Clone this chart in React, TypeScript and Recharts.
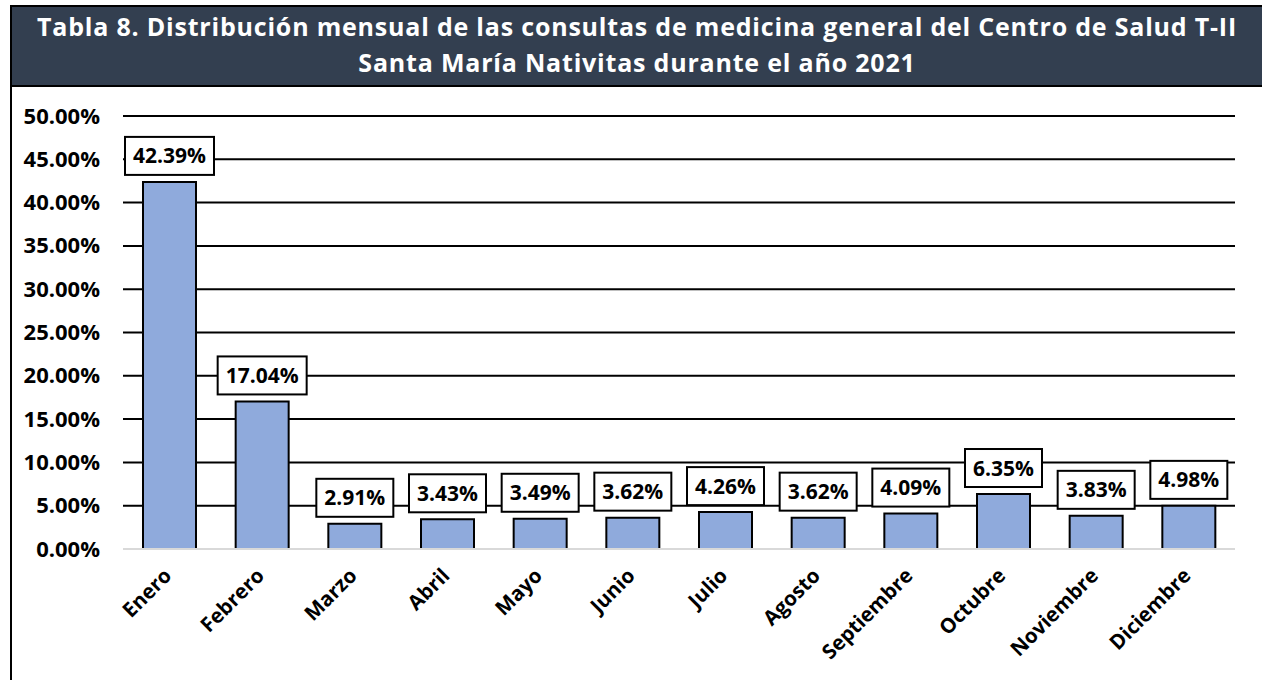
import { BarChart, Bar, XAxis, YAxis, CartesianGrid, LabelList } from "recharts";

const TITLE_LINE_1 = "Tabla 8. Distribución mensual de las consultas de medicina general del Centro de Salud T-II";
const TITLE_LINE_2 = "Santa María Nativitas durante el año 2021";

const MONTHS = [
  "Enero",
  "Febrero",
  "Marzo",
  "Abril",
  "Mayo",
  "Junio",
  "Julio",
  "Agosto",
  "Septiembre",
  "Octubre",
  "Noviembre",
  "Diciembre",
];

// porcentaje de consultas por mes
const SHARES = [42.39, 17.04, 2.91, 3.43, 3.49, 3.62, 4.26, 3.62, 4.09, 6.35, 3.83, 4.98];

const Y_TICKS = [0, 5, 10, 15, 20, 25, 30, 35, 40, 45, 50];

const FONT = "'Open Sans', Lato, sans-serif";
const BAR_FILL = "#8FAADC";

const fmt = (v: number) => v.toFixed(2) + "%";

function YTick(props: any) {
  const { y, payload } = props;
  return (
    <text x={100} y={y} dy={7.5} textAnchor="end" fontFamily={FONT} fontWeight={700} fontSize={22} fill="#000">
      {fmt(payload.value)}
    </text>
  );
}

function XTick(props: any) {
  const { x, y, payload } = props;
  const ax = x + 3.5;
  const ay = y + 28;
  return (
    <text
      x={ax}
      y={ay}
      textAnchor="end"
      transform={`rotate(-45, ${ax}, ${ay})`}
      fontFamily={FONT}
      fontWeight={700}
      fontSize={20.5}
      fill="#000"
    >
      {payload.value}
    </text>
  );
}

function BoxLabel(props: any) {
  const { x, y, width, value } = props;
  const text = fmt(Number(value));
  const w = text.length * 12 + 17;
  const h = 38;
  const cx = x + width / 2;
  const bottom = y - 7;
  return (
    <g>
      <rect x={cx - w / 2} y={bottom - h} width={w} height={h} fill="#fff" stroke="#000" strokeWidth={2} />
      <text
        x={cx}
        y={bottom - h / 2 + 7.5}
        textAnchor="middle"
        fontFamily={FONT}
        fontWeight={700}
        fontSize={21}
        fill="#000"
      >
        {text}
      </text>
    </g>
  );
}

export default function App() {
  const rows = MONTHS.map((month, i) => ({ month, share: SHARES[i] }));

  return (
    <div style={{ position: "absolute", left: 0, top: 0, width: 1262, height: 680, background: "#fff", fontFamily: FONT }}>
      <div
        style={{
          position: "absolute",
          left: 10,
          top: 5,
          width: 1252,
          height: 82,
          boxSizing: "border-box",
          border: "2px solid #000",
          borderRight: "none",
          background: "#333F50",
          color: "#fff",
          fontWeight: 700,
          fontSize: 25,
          letterSpacing: 0.8,
          lineHeight: "36px",
          textAlign: "center",
          paddingTop: 1,
          whiteSpace: "nowrap",
        }}
      >
        <div>{TITLE_LINE_1}</div>
        <div>{TITLE_LINE_2}</div>
      </div>
      <div style={{ position: "absolute", left: 10, top: 86, width: 2, height: 594, background: "#000" }} />

      <div style={{ position: "absolute", left: 0, top: 0 }}>
        <BarChart
          width={1262}
          height={680}
          data={rows}
          margin={{ top: 116, right: 27, bottom: 0, left: 0 }}
          barSize={53}
        >
          <CartesianGrid vertical={false} stroke="#000" strokeWidth={2} />
          <XAxis
            dataKey="month"
            height={131}
            interval={0}
            tickLine={false}
            tickSize={0}
            tickMargin={0}
            axisLine={{ stroke: "#D9D9D9", strokeWidth: 2 }}
            tick={<XTick />}
          />
          <YAxis
            width={123}
            domain={[0, 50]}
            ticks={Y_TICKS}
            interval={0}
            axisLine={false}
            tickLine={false}
            tick={<YTick />}
          />
          <Bar dataKey="share" fill={BAR_FILL} stroke="#000" strokeWidth={2} isAnimationActive={false}>
            <LabelList dataKey="share" content={<BoxLabel />} />
          </Bar>
        </BarChart>
      </div>
    </div>
  );
}
